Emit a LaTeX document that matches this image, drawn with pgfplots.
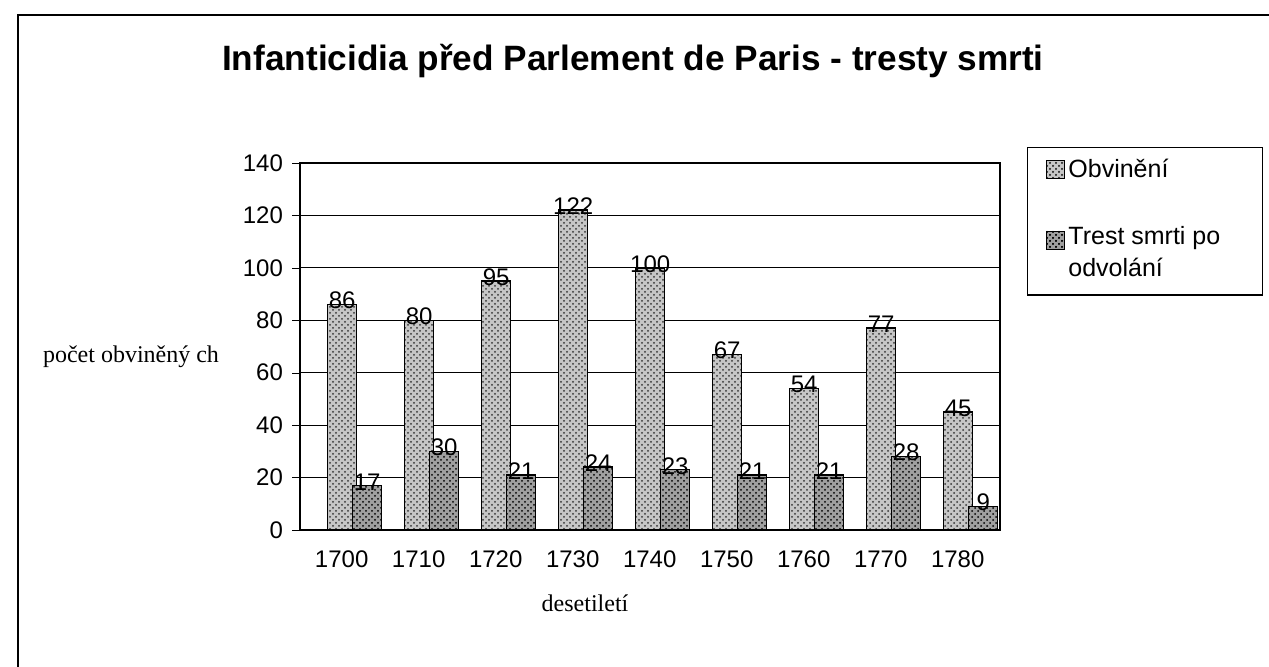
\documentclass[border=0pt]{standalone}
\usepackage{pgfplots}
\pgfplotsset{compat=1.18}
\usepackage{fontspec}
\setmainfont{Liberation Serif}
\newfontfamily\arial{Liberation Sans}
\usetikzlibrary{patterns}
\tikzset{
  barA/.style={draw=black, fill=gray!45, postaction={pattern=crosshatch dots, pattern color=black!80}},
  barB/.style={draw=black, fill=gray!75, postaction={pattern=crosshatch dots, pattern color=black}},
}
\begin{document}
\begin{tikzpicture}
\path[use as bounding box] (0,0) rectangle (634.5pt,333.5pt);
\draw[line width=0.8pt] (9pt,0) -- (9pt,326pt) -- (634.5pt,326pt);
\node[font=\arial\bfseries\fontsize{17.6}{20}\selectfont] at (316.5pt,303pt) {Infanticidia před Parlement de Paris - tresty smrti};
\node[font=\fontsize{12}{14}\selectfont] at (65.5pt,155pt) {počet obviněný ch};
\node[font=\fontsize{12}{14}\selectfont] at (292.5pt,32pt) {desetiletí};
\begin{axis}[
  at={(150pt,68.5pt)}, anchor=south west,
  scale only axis, width=350pt, height=183.5pt,
  ybar=-2pt, bar width=14.5pt,
  xmin=-0.71, xmax=8.38, ymin=0, ymax=140,
  ytick={0,20,...,140},
  xtick={0,...,8},
  xticklabels={1700,1710,1720,1730,1740,1750,1760,1770,1780},
  xtick pos=bottom, ytick pos=left,
  xtick style={draw=none},
  extra x ticks={0.35,1.35,...,8.35},
  extra x tick labels={},
  extra x tick style={major tick length=5pt, tick style={draw=black}, grid=none},
  ymajorgrids, major grid style={black, line width=0.6pt},
  axis line style={black, line width=0.6pt},
  ytick style={black}, tick align=outside,
  major tick length=4pt,
  /pgf/number format/assume math mode=true,
  ticklabel style={font=\arial\fontsize{12}{14}\selectfont},
  xticklabel style={xshift=-6.5pt, yshift=-3pt},
  yticklabel style={xshift=-1pt},
  nodes near coords,
  every node near coord/.append style={font=\arial\fontsize{12}{14}\selectfont, yshift=-6pt},
  legend style={at={(1.0386,1.0436)}, anchor=north west, draw=black, line width=0.6pt,
    font=\arial\fontsize{12.5}{16}\selectfont, inner xsep=9pt, inner ysep=4pt, row sep=16pt,
    cells={anchor=west}},
  legend cell align=left,
]
\addplot[barA, line width=0.7pt,
  legend image code/.code={\draw[barA, line width=0.4pt] (0pt,-4pt) rectangle (9pt,5pt);}]
  coordinates {(0,86) (1,80) (2,95) (3,122) (4,100) (5,67) (6,54) (7,77) (8,45)};
\addlegendentry{Obvinění}
\addplot[barB, line width=0.7pt,
  legend image code/.code={\node[inner sep=0pt, minimum height=35pt, minimum width=0pt] at (0pt,-4.5pt) {}; \draw[barB, line width=0.4pt] (0pt,-3pt) rectangle (9pt,6pt);}]
  coordinates {(0,17) (1,30) (2,21) (3,24) (4,23) (5,21) (6,21) (7,28) (8,9)};
\addlegendentry{\begin{tabular}{@{}p{86pt}@{}}Trest smrti po\\odvolání\end{tabular}}
\end{axis}
\end{tikzpicture}
\end{document}
